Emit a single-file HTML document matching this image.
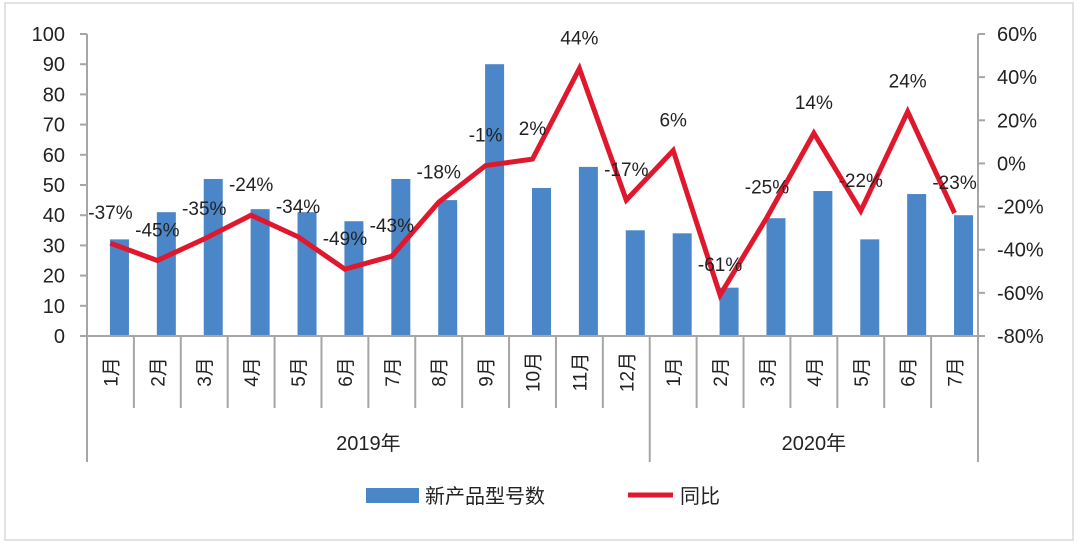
<!DOCTYPE html>
<html><head><meta charset="utf-8"><style>
body{margin:0;background:#fff;}
svg text{font-family:"Liberation Sans","Noto Sans CJK SC",sans-serif;fill:#222;}
</style></head><body>
<svg width="1080" height="544" viewBox="0 0 1080 544" xmlns="http://www.w3.org/2000/svg">
<rect x="5" y="3" width="1068" height="537" fill="#fff" stroke="#d8d8d8" stroke-width="1.5"/>
<g id="c"></g>
</svg>
<script>
const bars=[32,41,52,42,41,38,52,45,90,49,56,35,34,16,39,48,32,47,40];
const yoy=[-37,-45,-35,-24,-34,-49,-43,-18,-1,2,44,-17,6,-61,-25,14,-22,24,-23];
const months=["1月","2月","3月","4月","5月","6月","7月","8月","9月","10月","11月","12月","1月","2月","3月","4月","5月","6月","7月"];
const L=87,R=978,T=34,B=336,W=(R-L)/19;
let s='';
const yl=v=>B-(v/100)*(B-T);
const yr=v=>B-((v+80)/140)*(B-T);
// axes
s+=`<line x1="${L}" y1="${T}" x2="${L}" y2="462" stroke="#a6a6a6" stroke-width="2"/>`;
s+=`<line x1="${R}" y1="${T}" x2="${R}" y2="462" stroke="#a6a6a6" stroke-width="2"/>`;
for(let v=0;v<=100;v+=10){let y=yl(v);s+=`<line x1="${L-7}" y1="${y}" x2="${L}" y2="${y}" stroke="#a6a6a6" stroke-width="2"/><text x="${L-22}" y="${y+7}" font-size="20" text-anchor="end">${v}</text>`;}
for(let v=-80;v<=60;v+=20){let y=yr(v);s+=`<line x1="${R}" y1="${y}" x2="${R+7}" y2="${y}" stroke="#a6a6a6" stroke-width="2"/><text x="${R+19}" y="${y+7}" font-size="20">${v}%</text>`;}
// bars
bars.forEach((v,i)=>{let cx=L+W*(i+0.5)+9;s+=`<rect x="${cx-9.5}" y="${yl(v)}" width="19" height="${B-yl(v)}" fill="#4a86c8"/>`;});
s+=`<line x1="${L}" y1="${B}" x2="${R}" y2="${B}" stroke="#a6a6a6" stroke-width="2"/>`;
// category separators
for(let i=1;i<19;i++){let x=L+W*i;s+=`<line x1="${x}" y1="${B}" x2="${x}" y2="${i==12?462:408}" stroke="#a6a6a6" stroke-width="2"/>`;}
months.forEach((m,i)=>{let cx=L+W*(i+0.5);s+=`<text transform="translate(${cx+7},372) rotate(-90)" font-size="19" text-anchor="middle">${m}</text>`;});
s+=`<text x="${L+W*6}" y="450" font-size="20" text-anchor="middle">2019年</text>`;
s+=`<text x="${L+W*15.5}" y="450" font-size="20" text-anchor="middle">2020年</text>`;
// line
let pts=yoy.map((v,i)=>`${L+W*(i+0.5)},${yr(v)}`).join(' ');
s+=`<polyline points="${pts}" fill="none" stroke="#e0182d" stroke-width="5" stroke-linejoin="miter"/>`;
yoy.forEach((v,i)=>{let cx=L+W*(i+0.5);s+=`<text x="${cx}" y="${yr(v)-24}" font-size="19" text-anchor="middle">${v}%</text>`;});
// legend
s+=`<rect x="366" y="488" width="53" height="15" fill="#4a86c8"/><text x="425" y="503" font-size="20">新产品型号数</text>`;
s+=`<line x1="628" y1="495" x2="673" y2="495" stroke="#e0182d" stroke-width="5"/><text x="680" y="503" font-size="20">同比</text>`;
document.getElementById('c').innerHTML=s;
</script>
</body></html>
